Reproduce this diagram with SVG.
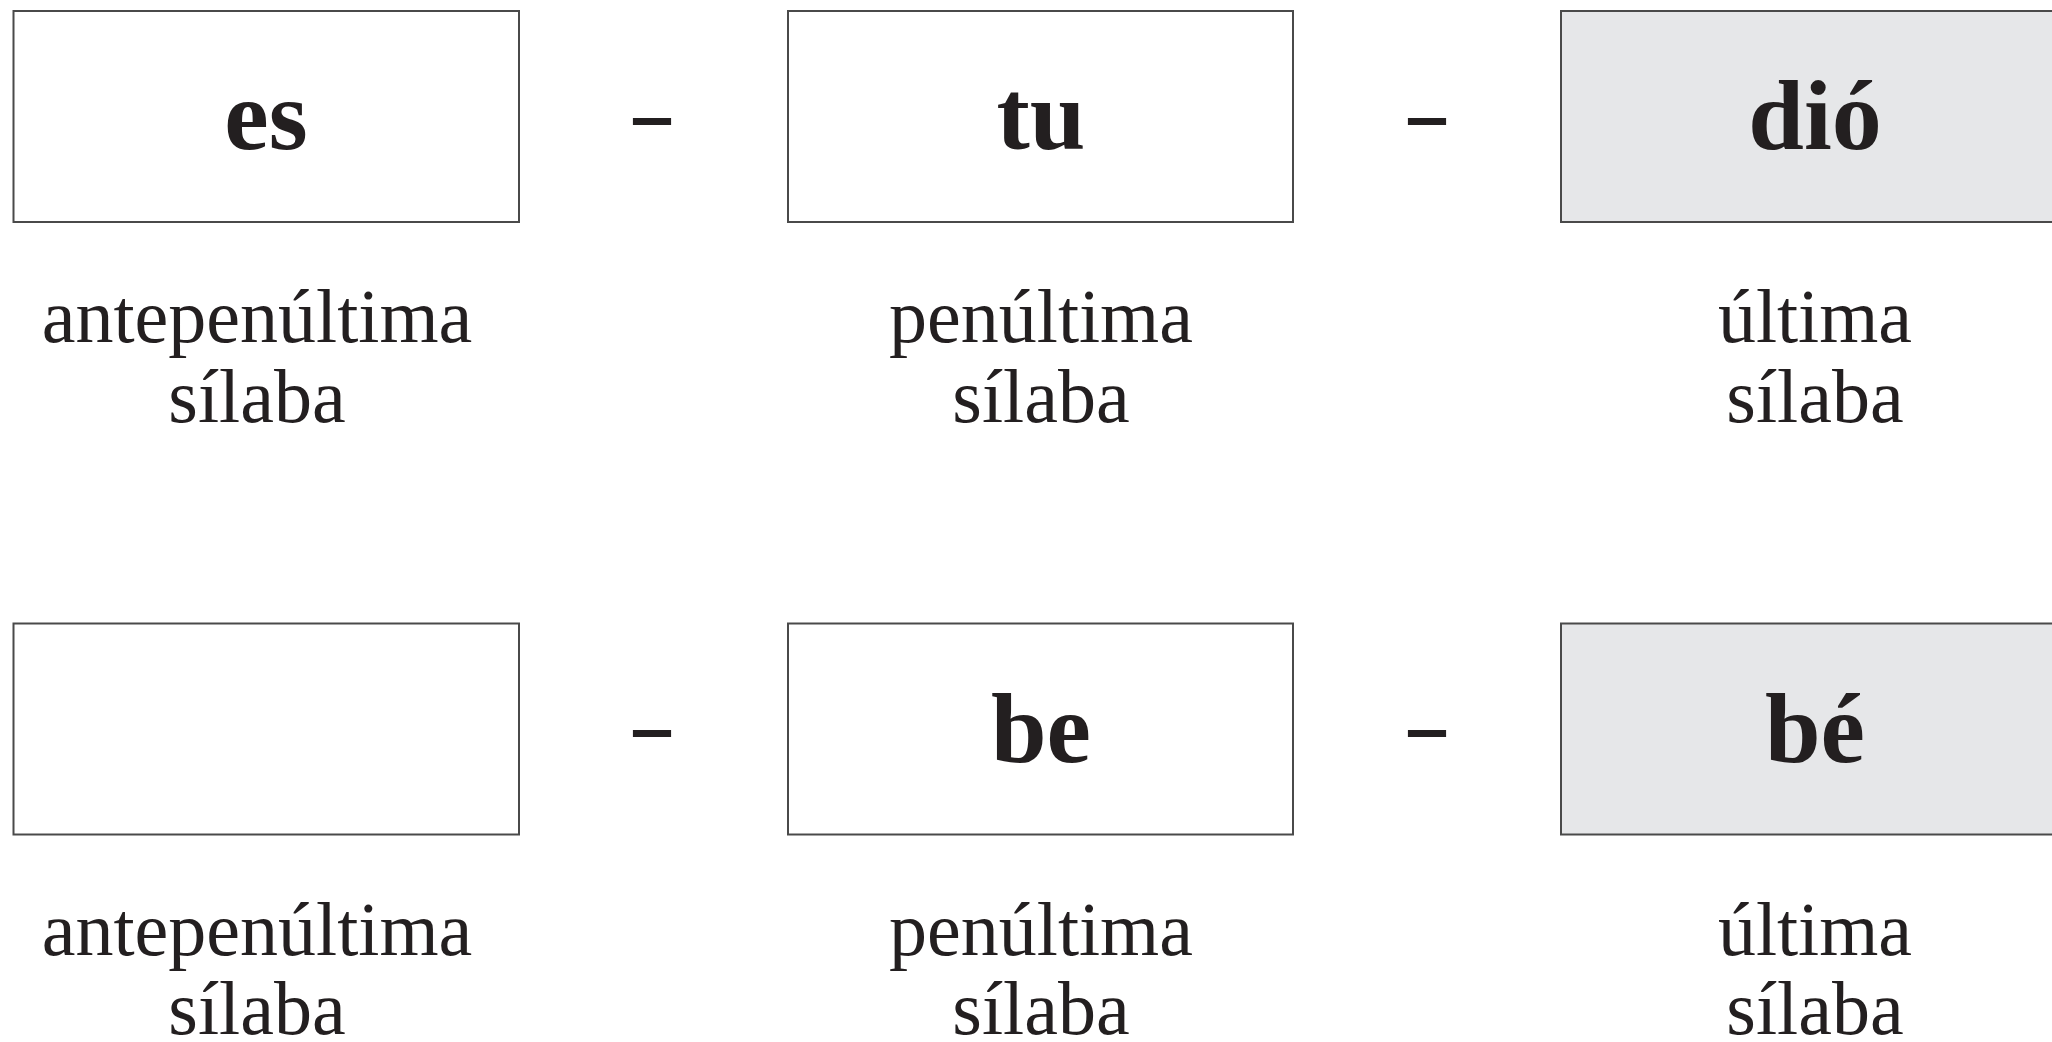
<svg xmlns="http://www.w3.org/2000/svg" width="2052" height="1042" viewBox="0 0 2052 1042">
<style>
.box{fill:#ffffff;stroke:#4a4a4a;stroke-width:2}
.hl{fill:#e6e7e9}
.syl{font-family:"Liberation Serif",serif;font-weight:bold;font-size:100px;fill:#231f20;text-anchor:middle}
.lbl{font-family:"Liberation Serif",serif;font-size:76px;fill:#231f20;text-anchor:middle}
.dash{font-family:"Liberation Serif",serif;font-weight:bold;font-size:70px;fill:#231f20;stroke:#231f20;stroke-width:2.2;text-anchor:middle}
</style>
<rect width="2052" height="1042" fill="#ffffff"/>
<g id="connectors">
<text class="dash" x="652" y="138">–</text>
<text class="dash" x="1427" y="138">–</text>
<text class="dash" x="652" y="750">–</text>
<text class="dash" x="1427" y="750">–</text>
</g>
<g id="r1c1">
<rect class="box" x="13.5" y="11" width="505.5" height="211"/>
<text class="syl" x="266" y="149">es</text>
<text class="lbl" x="257" y="342">antepenúltima</text>
<text class="lbl" x="257" y="422">sílaba</text>
</g>
<g id="r1c2">
<rect class="box" x="788" y="11" width="505" height="211"/>
<text class="syl" x="1041" y="149">tu</text>
<text class="lbl" x="1041" y="342">penúltima</text>
<text class="lbl" x="1041" y="422">sílaba</text>
</g>
<g id="r1c3">
<rect class="box hl" x="1561" y="11" width="505" height="211"/>
<text class="syl" x="1815" y="149">dió</text>
<text class="lbl" x="1815" y="342">última</text>
<text class="lbl" x="1815" y="422">sílaba</text>
</g>
<g id="r2c1">
<rect class="box" x="13.5" y="623.5" width="505.5" height="211"/>
<text class="lbl" x="257" y="955">antepenúltima</text>
<text class="lbl" x="257" y="1034">sílaba</text>
</g>
<g id="r2c2">
<rect class="box" x="788" y="623.5" width="505" height="211"/>
<text class="syl" x="1041" y="762">be</text>
<text class="lbl" x="1041" y="955">penúltima</text>
<text class="lbl" x="1041" y="1034">sílaba</text>
</g>
<g id="r2c3">
<rect class="box hl" x="1561" y="623.5" width="505" height="211"/>
<text class="syl" x="1815" y="762">bé</text>
<text class="lbl" x="1815" y="955">última</text>
<text class="lbl" x="1815" y="1034">sílaba</text>
</g>
</svg>
